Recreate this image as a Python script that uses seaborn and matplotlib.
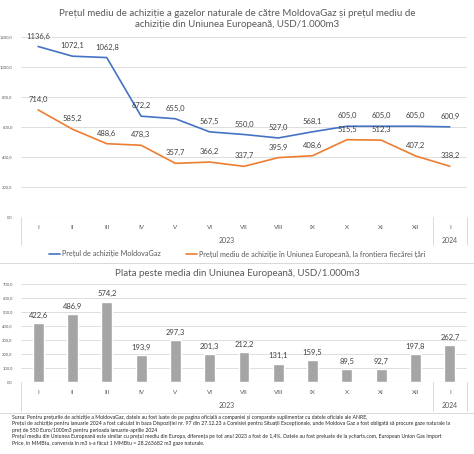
import numpy as np
import pandas as pd
import matplotlib
matplotlib.use("Agg")
import matplotlib.pyplot as plt
import seaborn as sns

months = ["I", "II", "III", "IV", "V", "VI", "VII", "VIII", "IX", "X", "XI", "XII", "I"]
years = ["2023"] * 12 + ["2024"]
moldovagaz = [1136.6, 1072.1, 1062.8, 672.2, 655.0, 567.5, 550.0, 527.0, 568.1, 605.0, 605.0, 605.0, 600.9]
eu_price = [714.0, 585.2, 488.6, 478.3, 357.7, 366.2, 337.7, 395.9, 408.6, 515.5, 512.3, 407.2, 338.2]
over_eu = [422.6, 486.9, 574.2, 193.9, 297.3, 201.3, 212.2, 131.1, 159.5, 89.5, 92.7, 197.8, 262.7]

footnote = (
    "Sursa: Pentru prețurile de achiziție a MoldovaGaz, datele au fost luate de pe pagina oficială a companiei și comparate suplimentar cu datele oficiale ale ANRE,\n"
    "Prețul de achiziție pentru ianuarie 2024 a fost calculat în baza Dispoziției nr. 97 din 27.12.23 a Comisiei pentru Situații Excepționale, unde Moldova Gaz a fost obligată să procure gaze naturale la\n"
    "preț de 550 Euro/1000m3 pentru perioada ianuarie-aprilie 2024\n"
    "Prețul mediu din Uniunea Europeană este similar cu prețul mediu din Europa, diferența pe tot anul 2023 a fost de 1,4%. Datele au fost preluate de la ycharts.com, European Union Gas Import\n"
    "Price, în MMBtu, conversia în m3 s-a făcut 1 MMBtu = 28.263682 m3 gaze naturale."
)

sns.set_style("white")
plt.rcParams["font.family"] = ["Lato", "DejaVu Sans"]

BLUE = "#4472c4"
ORANGE = "#ed7d31"
GREY = "#a5a5a5"
TXT = "#595959"
LBL = "#404040"
GRID = "#d9d9d9"

df = pd.DataFrame({"pos": np.arange(len(months)), "month": months, "year": years,
                   "mg": moldovagaz, "eu": eu_price, "diff": over_eu})

W, H = 474, 454
fig = plt.figure(figsize=(W / 100, H / 100), dpi=100)


def fx(px):
    return px / W


def fy(py):
    return 1 - py / H


def style_axis(ax, ymax, step):
    ax.set_xlim(-0.5, len(months) - 0.5)
    ax.set_ylim(0, ymax)
    ticks = np.arange(0, ymax + 1, step)
    ax.set_yticks(ticks)
    ax.set_yticklabels([f"{t:.1f}".replace(".", ",") for t in ticks], fontsize=3, color=TXT)
    ax.tick_params(axis="y", length=0, pad=6)
    ax.set_xticks([])
    ax.set_xlabel("")
    ax.set_ylabel("")
    for s in ax.spines.values():
        s.set_visible(False)
    ax.grid(axis="y", color=GRID, linewidth=0.6)
    ax.set_axisbelow(True)
    ax.axhline(0, color=GRID, linewidth=0.8)


def category_table(ax, depth_px):
    # two-level category axis drawn below the plot area
    tr = ax.get_xaxis_transform()
    h_ax = ax.get_position().height * H
    d1 = -10 / h_ax
    d2 = -23 / h_ax
    dd = -depth_px / h_ax
    for i, m in enumerate(months):
        ax.text(i, d1, m, transform=tr, ha="center", va="center", fontsize=4.5, color=TXT)
    ax.text(5.5, d2, "2023", transform=tr, ha="center", va="center", fontsize=5, color=TXT)
    ax.text(12, d2, "2024", transform=tr, ha="center", va="center", fontsize=5, color=TXT)
    for x in (-0.5, 11.5, 12.5):
        ax.plot([x, x], [0, dd], transform=tr, color=GRID, linewidth=0.7, clip_on=False)


# ---- top chart: prices
ax1 = fig.add_axes([fx(21), fy(217), fx(446), fy(37) - fy(217)])
sns.lineplot(data=df, x="pos", y="mg", color=BLUE, linewidth=1.2, ax=ax1,
             label="Prețul de achiziție MoldovaGaz")
sns.lineplot(data=df, x="pos", y="eu", color=ORANGE, linewidth=1.2, ax=ax1,
             label="Prețul mediu de achiziție în Uniunea Europeană, la frontiera fiecărei țări")
style_axis(ax1, 1200, 200)
for i in range(len(months)):
    ax1.annotate(f"{moldovagaz[i]:.1f}".replace(".", ","), (i, moldovagaz[i]), xytext=(0, 5),
                 textcoords="offset points", ha="center", va="bottom", fontsize=5.5, color=LBL)
    ax1.annotate(f"{eu_price[i]:.1f}".replace(".", ","), (i, eu_price[i]), xytext=(0, 5),
                 textcoords="offset points", ha="center", va="bottom", fontsize=5.5, color=LBL)
category_table(ax1, 28)
leg = ax1.legend(loc="center", bbox_to_anchor=(0.5, fy(254)), bbox_transform=fig.transFigure,
                 ncol=2, frameon=False, fontsize=5.2, handlelength=1.6, columnspacing=3.5,
                 handletextpad=0.2)
for t in leg.get_texts():
    t.set_color(TXT)
fig.text(0.5, fy(19), "Prețul mediu de achiziție a gazelor naturale de către MoldovaGaz și prețul mediu de\n"
         "achiziție din Uniunea Europeană, USD/1.000m3", ha="center", va="center",
         fontsize=7.0, color=TXT, linespacing=1.3)

# separator between the two charts
fig.add_artist(plt.Line2D([0, 1], [fy(263), fy(263)], color=GRID, linewidth=0.7))

# ---- bottom chart: difference
ax2 = fig.add_axes([fx(21), fy(382), fx(446), fy(284) - fy(382)])
sns.barplot(data=df, x="pos", y="diff", color=GREY, saturation=1, width=0.32, ax=ax2)
style_axis(ax2, 700, 100)
for i, v in enumerate(over_eu):
    ax2.annotate(f"{v:.1f}".replace(".", ","), (i, v), xytext=(0, 3),
                 textcoords="offset points", ha="center", va="bottom", fontsize=5.5, color=LBL)
category_table(ax2, 29)
fig.text(0.5, fy(273), "Plata peste media din Uniunea Europeană, USD/1.000m3", ha="center",
         va="center", fontsize=7.0, color=TXT)

fig.add_artist(plt.Line2D([0, 1], [fy(413), fy(413)], color=GRID, linewidth=0.7))
fig.text(fx(12), fy(415), footnote, ha="left", va="top", fontsize=3.7, color="#262626",
         linespacing=1.35)

fig.savefig("out.png", dpi=100)
